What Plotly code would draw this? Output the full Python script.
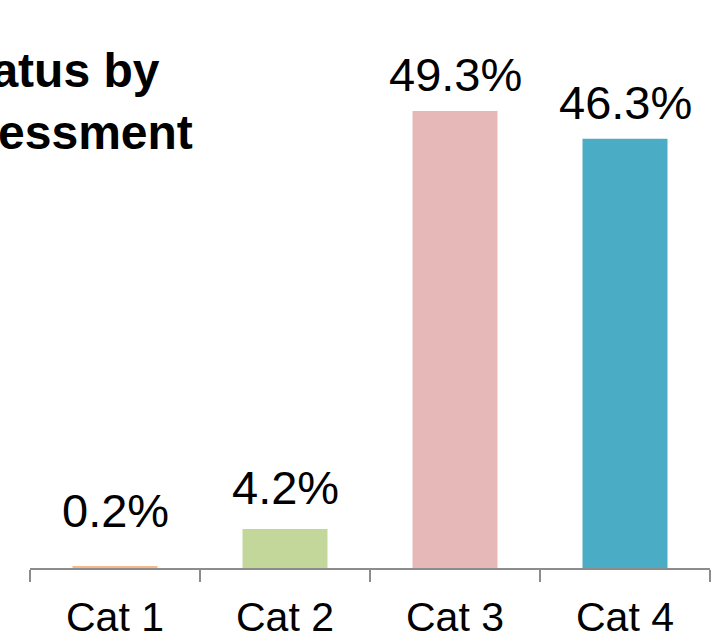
import plotly.graph_objects as go

categories = ["Cat 1", "Cat 2", "Cat 3", "Cat 4"]
values = [0.2, 4.2, 49.3, 46.3]
labels = ["0.2%", "4.2%", "49.3%", "46.3%"]
colors = ["#F6B98C", "#C4D79B", "#E6B9B8", "#4BACC6"]

FONT = "Liberation Sans, Arial, sans-serif"
label_shift = [27, 13, 8, 8]  # pixel offsets of value labels above the bars

fig = go.Figure(
    go.Bar(
        x=categories,
        y=values,
        marker=dict(color=colors, line=dict(width=0)),
        width=0.5,
        hoverinfo="x+y",
    )
)

for cat, val, lab, sh in zip(categories, values, labels, label_shift):
    fig.add_annotation(
        x=cat, y=val, xref="x", yref="y",
        text=lab, showarrow=False,
        xanchor="center", yanchor="bottom", yshift=sh,
        font=dict(family=FONT, size=47, color="#000000"),
    )

fig.add_annotation(
    text="<b>Status by<br>Assessment</b>",
    xref="paper", yref="paper",
    x=0.032, y=1.0,
    xanchor="center", yanchor="top", yshift=-32,
    showarrow=False, align="center",
    font=dict(family=FONT, size=48, color="#000000"),
)

fig.update_layout(
    width=713, height=637,
    margin=dict(l=30, r=3, t=10, b=69),
    paper_bgcolor="white", plot_bgcolor="white",
    showlegend=False,
    font=dict(family=FONT, color="#000000"),
)
fig.update_xaxes(
    showline=True, linecolor="#8C8C8C", linewidth=2,
    ticks="outside", tickson="boundaries", ticklen=12, tickwidth=2, tickcolor="#8C8C8C",
    tickfont=dict(family=FONT, size=41, color="#000000"),
    ticklabelstandoff=12,
    automargin=False,
    showgrid=False,
)
fig.update_yaxes(
    range=[0, 60.2], visible=False, showgrid=False, zeroline=False,
)

fig.write_html("out.html")
